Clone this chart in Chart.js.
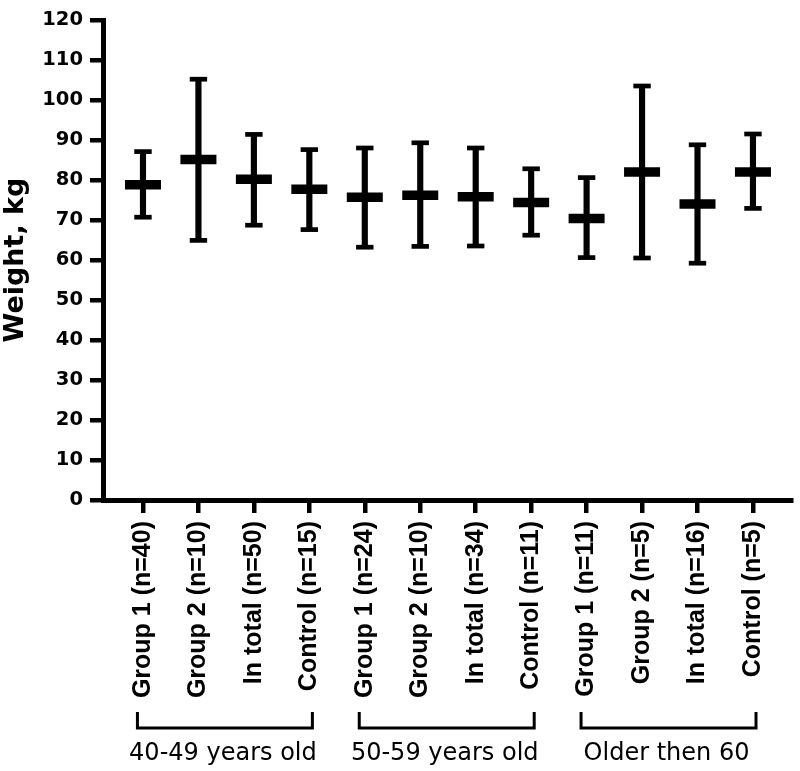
<!DOCTYPE html>
<html>
<head>
<meta charset="utf-8">
<title>Weight by age group</title>
<script src="https://cdn.jsdelivr.net/npm/chart.js@4/dist/chart.umd.min.js"></script>
<style>
  body { margin: 0; background: #fff; }
  canvas { display: block; }
</style>
</head>
<body>
<canvas id="chart" width="800" height="771"></canvas>
<script>
const labels = [
  'Group 1 (n=40)', 'Group 2 (n=10)', 'In total (n=50)', 'Control (n=15)',
  'Group 1 (n=24)', 'Group 2 (n=10)', 'In total (n=34)', 'Control (n=11)',
  'Group 1 (n=11)', 'Group 2 (n=5)', 'In total (n=16)', 'Control (n=5)'
];
const means = [78.8, 85.1, 80.2, 77.7, 75.7, 76.2, 75.8, 74.4, 70.4, 82.0, 74.0, 82.0];
const upper = [87.1, 105.2, 91.4, 87.6, 88.0, 89.3, 88.0, 82.8, 80.6, 103.5, 88.8, 91.5];
const lower = [70.7, 64.9, 68.7, 67.6, 63.2, 63.4, 63.5, 66.2, 60.6, 60.5, 59.2, 72.9];

const groupNames = ['40-49 years old', '50-59 years old', 'Older then 60'];
const groupFirst = [0, 4, 8];
const groupLast = [3, 7, 11];

const yTicks = [0, 10, 20, 30, 40, 50, 60, 70, 80, 90, 100, 110, 120];

const black = '#000';

// brackets and age-group names under the rotated labels
const groupBrackets = {
  id: 'groupBrackets',
  afterDraw(chart) {
    const { ctx } = chart;
    const x = chart.scales.x;
    ctx.save();
    ctx.strokeStyle = black;
    ctx.fillStyle = black;
    ctx.lineWidth = 3;
    ctx.font = '24px "DejaVu Sans"';
    ctx.textAlign = 'center';
    ctx.textBaseline = 'alphabetic';
    groupNames.forEach((name, i) => {
      const x1 = x.getPixelForValue(groupFirst[i] - 0.1);
      const x2 = x.getPixelForValue(groupLast[i] + 0.055);
      ctx.beginPath();
      ctx.moveTo(x1, 712);
      ctx.lineTo(x1, 728);
      ctx.lineTo(x2, 728);
      ctx.lineTo(x2, 712);
      ctx.stroke();
      ctx.fillText(name, (x1 + x2) / 2 - 2, 760);
    });
    ctx.restore();
  }
};

new Chart(document.getElementById('chart'), {
  type: 'bar',
  data: {
    datasets: [
      {
        type: 'scatter',
        data: means.map((m, i) => ({ x: i, y: m })),
        pointStyle: 'line',
        radius: 18,
        borderWidth: 9.5,
        borderColor: black,
        order: 1
      },
      {
        type: 'scatter',
        data: upper.map((v, i) => ({ x: i, y: v })).concat(lower.map((v, i) => ({ x: i, y: v }))),
        pointStyle: 'line',
        radius: 8.7,
        borderWidth: 4.7,
        borderColor: black,
        order: 2
      },
      {
        data: lower.map((lo, i) => ({ x: i, y: [lo, upper[i]] })),
        backgroundColor: black,
        borderWidth: 0,
        barThickness: 5.5,
        order: 3
      }
    ]
  },
  options: {
    responsive: false,
    animation: false,
    layout: { autoPadding: false, padding: { top: 20, right: 9, bottom: 0, left: 0 } },
    plugins: {
      legend: { display: false },
      tooltip: { enabled: false }
    },
    scales: {
      x: {
        type: 'linear',
        offset: false,
        min: -0.721,
        max: 11.686,
        afterBuildTicks: scale => {
          scale.ticks = labels.map((_, i) => ({ value: i }));
        },
        afterFit: scale => {
          scale.height = 271;
          scale.paddingLeft = 0;
          scale.paddingRight = 0;
        },
        border: { display: true, color: black, width: 5 },
        grid: {
          offset: false,
          drawOnChartArea: false,
          color: black,
          lineWidth: 4.5,
          tickLength: 13,
          tickColor: black
        },
        ticks: {
          autoSkip: false,
          minRotation: 90,
          maxRotation: 90,
          padding: 8,
          color: black,
          font: { family: '"Liberation Sans", Arial', size: 25, weight: 'bold' },
          callback: v => labels[v]
        }
      },
      y: {
        min: 0,
        max: 120,
        afterBuildTicks: scale => {
          scale.ticks = yTicks.map(v => ({ value: v }));
        },
        afterFit: scale => {
          scale.width = 103;
        },
        border: { display: true, color: black, width: 5 },
        grid: {
          drawOnChartArea: false,
          color: black,
          lineWidth: 4.5,
          tickLength: 13,
          tickColor: black
        },
        ticks: {
          padding: 7,
          color: black,
          font: { family: '"DejaVu Sans"', size: 19.5, weight: 'bold' }
        },
        title: {
          display: true,
          text: 'Weight, kg',
          color: black,
          padding: 0,
          font: { family: '"DejaVu Sans"', size: 27, weight: 'bold' }
        }
      }
    }
  },
  plugins: [groupBrackets]
});
</script>
</body>
</html>
